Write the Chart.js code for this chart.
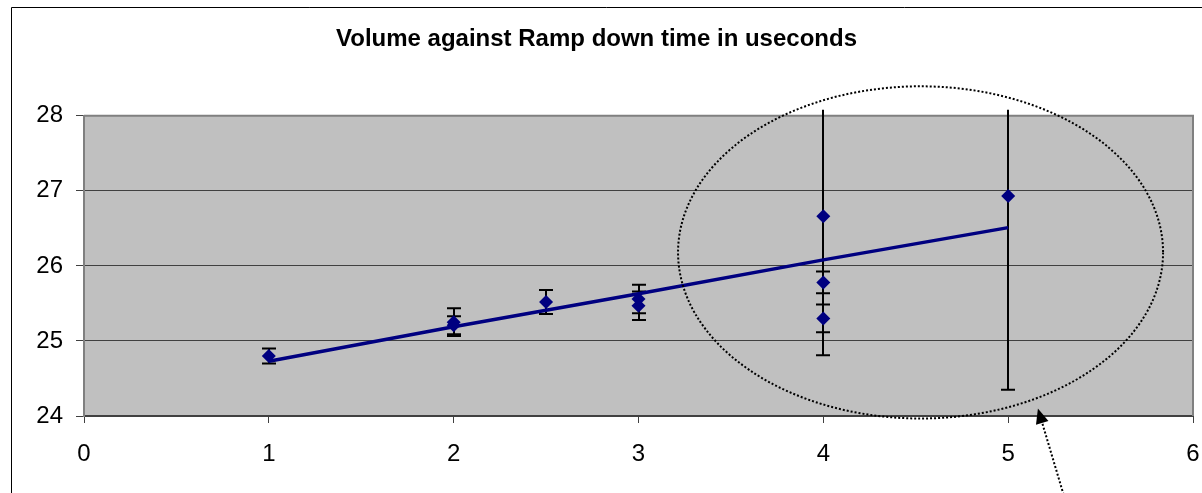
<!DOCTYPE html>
<html>
<head>
<meta charset="utf-8">
<script src="https://cdn.jsdelivr.net/npm/chart.js@4/dist/chart.umd.min.js"></script>
<style>
  body { margin: 0; background: #fff; }
  canvas { display: block; }
</style>
</head>
<body>
<canvas id="myChart" width="1202" height="493"></canvas>
<script>
// values
var xTicks = [0, 1, 2, 3, 4, 5, 6];
var yTicks = [24, 25, 26, 27, 28];

var rampTimes = [1, 2, 2, 2.5, 3, 3, 4, 4, 4, 5];
var volumes   = [24.80, 25.25, 25.21, 25.52, 25.56, 25.47, 26.66, 25.78, 25.30, 26.93];
var errors    = [0.10, 0.185, 0.12, 0.16, 0.19, 0.19, 1.85, 0.145, 0.185, 2.58];

var trendX = [1, 2, 3, 4, 5];
var trendY = [24.73, 25.19, 25.63, 26.08, 26.51];

// dotted ellipse + arrow annotation, in data units
var ringCenter = [4.526, 26.18];
var ringRadius = [1.312, 2.213];
var arrowFrom = [5.30, 22.95];
var arrowTo = [5.161, 24.10];

var points = rampTimes.map(function (x, i) { return { x: x, y: volumes[i] }; });
var trend = trendX.map(function (x, i) { return { x: x, y: trendY[i] }; });

var plotFrame = {
  id: 'plotFrame',
  beforeDraw: function (chart) {
    var c = chart.ctx, a = chart.chartArea;
    c.save();
    c.strokeStyle = '#000';
    c.lineWidth = 1;
    c.beginPath();
    c.moveTo(11.5, chart.height);
    c.lineTo(11.5, 7.5);
    c.lineTo(chart.width, 7.5);
    c.stroke();
    c.fillStyle = '#c0c0c0';
    c.fillRect(a.left, a.top, a.right - a.left, a.bottom - a.top);
    c.restore();
  },
  beforeDatasetsDraw: function (chart) {
    var c = chart.ctx, a = chart.chartArea;
    var xs = chart.scales.x, ys = chart.scales.y;
    c.save();
    c.strokeStyle = '#808080';
    c.lineWidth = 2;
    c.beginPath();
    c.moveTo(a.left, a.top);
    c.lineTo(a.right, a.top);
    c.lineTo(a.right, a.bottom);
    c.stroke();

    // error bars
    c.strokeStyle = '#000';
    c.lineWidth = 2;
    for (var i = 0; i < rampTimes.length; i++) {
      var px = Math.round(xs.getPixelForValue(rampTimes[i]));
      var top = ys.getPixelForValue(volumes[i] + errors[i]);
      var bot = ys.getPixelForValue(volumes[i] - errors[i]);
      var clipped = top < a.top - 6;
      if (clipped) top = a.top - 6;
      c.beginPath();
      c.moveTo(px, top);
      c.lineTo(px, bot);
      if (!clipped) {
        c.moveTo(px - 7, top);
        c.lineTo(px + 7, top);
      }
      c.moveTo(px - 7, bot);
      c.lineTo(px + 7, bot);
      c.stroke();
    }
    c.restore();
  },
  afterDraw: function (chart) {
    var c = chart.ctx;
    var xs = chart.scales.x, ys = chart.scales.y;
    var cx = xs.getPixelForValue(ringCenter[0]);
    var cy = ys.getPixelForValue(ringCenter[1]);
    var rx = xs.getPixelForValue(ringCenter[0] + ringRadius[0]) - cx;
    var ry = cy - ys.getPixelForValue(ringCenter[1] + ringRadius[1]);
    c.save();
    c.strokeStyle = '#000';
    c.lineWidth = 2;
    c.setLineDash([2, 2]);
    c.beginPath();
    c.ellipse(cx, cy, rx, ry, 0, 0, Math.PI * 2);
    c.stroke();

    var x0 = xs.getPixelForValue(arrowFrom[0]), y0 = ys.getPixelForValue(arrowFrom[1]);
    var x1 = xs.getPixelForValue(arrowTo[0]), y1 = ys.getPixelForValue(arrowTo[1]);
    var ang = Math.atan2(y1 - y0, x1 - x0);
    var len = 15, half = 6.5;
    var bx = x1 - Math.cos(ang) * len, by = y1 - Math.sin(ang) * len;
    c.beginPath();
    c.moveTo(x0, y0);
    c.lineTo(bx, by);
    c.stroke();
    c.setLineDash([]);
    c.fillStyle = '#000';
    c.beginPath();
    c.moveTo(x1, y1);
    c.lineTo(bx + Math.sin(ang) * half, by - Math.cos(ang) * half);
    c.lineTo(bx - Math.sin(ang) * half, by + Math.cos(ang) * half);
    c.closePath();
    c.fill();
    c.restore();
  }
};

var ctx = document.getElementById('myChart').getContext('2d');
var myChart = new Chart(ctx, {
  type: 'scatter',
  data: {
    datasets: [{
      label: 'trend',
      data: trend,
      showLine: true,
      borderColor: '#000080',
      borderWidth: 3.5,
      pointRadius: 0,
      fill: false
    }, {
      label: 'Volume',
      data: points,
      pointStyle: 'rectRot',
      pointRadius: 7,
      pointBackgroundColor: '#000080',
      pointBorderColor: '#000080',
      pointBorderWidth: 0,
      showLine: false
    }]
  },
  options: {
    responsive: false,
    animation: false,
    layout: { padding: { left: 0, right: 9, top: 0, bottom: 0 } },
    plugins: {
      legend: { display: false },
      tooltip: { enabled: false },
      title: {
        display: true,
        text: 'Volume against Ramp down time in useconds',
        color: '#000',
        font: { family: 'Liberation Sans, Arial, sans-serif', size: 24, weight: 'bold' },
        padding: { top: 25, bottom: 62 }
      }
    },
    scales: {
      x: {
        type: 'linear',
        min: 0,
        max: 6,
        afterBuildTicks: function (scale) {
          scale.ticks = xTicks.map(function (v) { return { value: v }; });
        },
        afterFit: function (scale) {
          scale.height = 77;
          scale.paddingLeft = 0;
          scale.paddingRight = 0;
        },
        grid: { drawOnChartArea: false, tickLength: 7, tickColor: '#404040', tickWidth: 1 },
        border: { color: '#404040', width: 2 },
        ticks: {
          color: '#000',
          padding: 17,
          maxRotation: 0,
          font: { family: 'Liberation Sans, Arial, sans-serif', size: 24 }
        }
      },
      y: {
        min: 24,
        max: 28,
        afterBuildTicks: function (scale) {
          scale.ticks = yTicks.map(function (v) { return { value: v }; });
        },
        afterFit: function (scale) { scale.width = 84; },
        grid: {
          color: function (c) {
            return (c.tick && (c.tick.value === 24 || c.tick.value === 28)) ? 'rgba(0,0,0,0)' : '#404040';
          },
          lineWidth: 1,
          tickLength: 8,
          tickColor: '#404040',
          tickWidth: 1
        },
        border: { color: '#808080', width: 2 },
        ticks: {
          color: '#000',
          padding: 13,
          font: { family: 'Liberation Sans, Arial, sans-serif', size: 24 }
        }
      }
    }
  },
  plugins: [plotFrame]
});
</script>
</body>
</html>
